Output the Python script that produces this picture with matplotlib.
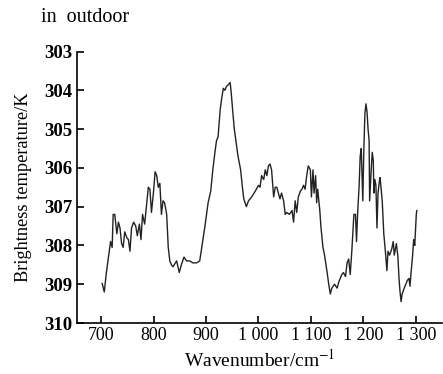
import matplotlib
matplotlib.use("Agg")
import matplotlib.pyplot as plt

wavenumber = [702, 706, 710, 715, 718, 721, 723, 726, 730, 733, 736, 739, 742, 745, 749, 752, 755, 758,
              762, 766, 769, 773, 776, 779, 783, 787, 790, 793, 796, 800, 803, 806, 809, 812, 815, 818,
              821, 825, 828, 831, 834, 837, 844, 849, 853, 858, 863, 869, 875, 882, 888, 893, 898, 904,
              909, 913, 917, 920, 923, 927, 930, 933, 936, 939, 943, 946, 948, 951, 954, 958, 961, 966,
              969, 972, 977, 981, 987, 994, 1000, 1003, 1006, 1010, 1013, 1016, 1019, 1022, 1025, 1029,
              1032, 1035, 1038, 1041, 1044, 1048, 1051, 1054, 1059, 1064, 1067, 1070, 1073, 1076, 1080,
              1083, 1086, 1089, 1092, 1095, 1099, 1101, 1104, 1106, 1109, 1111, 1113, 1117, 1119, 1123,
              1126, 1131, 1134, 1137, 1140, 1145, 1150, 1153, 1156, 1159, 1162, 1166, 1169, 1172, 1175,
              1178, 1182, 1185, 1187, 1189, 1192, 1194, 1196, 1199, 1201, 1203, 1205, 1207, 1209, 1211,
              1212, 1215, 1217, 1219, 1220, 1222, 1224, 1226, 1228, 1231, 1232, 1236, 1239, 1242, 1245,
              1247, 1250, 1254, 1257, 1259, 1263, 1266, 1268, 1270, 1272, 1274, 1278, 1281, 1284, 1287,
              1289, 1291, 1294, 1296, 1298, 1301, 1302]
brightness = [308.98, 309.2, 308.7, 308.2, 307.9, 308.05, 307.2, 307.2, 307.7, 307.4, 307.55, 307.95,
              308.05, 307.65, 307.8, 307.85, 308.15, 307.55, 307.4, 307.5, 307.75, 307.45, 307.85, 307.2,
              307.45, 306.9, 306.5, 306.55, 307.15, 306.6, 306.1, 306.2, 306.5, 306.4, 307.2, 306.85,
              306.9, 307.2, 308.05, 308.4, 308.5, 308.55, 308.4, 308.7, 308.5, 308.3, 308.4, 308.4,
              308.45, 308.45, 308.4, 307.95, 307.5, 306.9, 306.6, 306.05, 305.6, 305.3, 305.2, 304.5,
              304.2, 303.95, 304.0, 303.9, 303.85, 303.8, 304.05, 304.55, 305.0, 305.4, 305.7, 306.05,
              306.45, 306.8, 307.0, 306.85, 306.75, 306.6, 306.45, 306.5, 306.2, 306.3, 306.05, 306.2,
              305.95, 305.9, 306.05, 306.75, 306.5, 306.5, 306.65, 306.8, 306.65, 306.85, 307.2, 307.15,
              307.2, 307.1, 307.4, 306.85, 307.15, 306.75, 306.6, 306.55, 306.45, 306.55, 306.2, 305.95,
              306.05, 306.75, 306.05, 306.65, 306.2, 306.9, 306.55, 307.1, 307.5, 308.05, 308.25, 308.7,
              309.0, 309.25, 309.1, 309.0, 309.1, 308.95, 308.85, 308.75, 308.7, 308.8, 308.45, 308.35,
              308.75, 308.15, 307.2, 307.2, 307.9, 307.2, 306.45, 305.7, 305.5, 306.85, 305.5, 304.6,
              304.35, 304.55, 305.0, 305.3, 306.85, 306.05, 305.6, 305.8, 306.65, 306.3, 306.45, 307.55,
              306.65, 306.3, 306.25, 306.85, 307.7, 308.15, 308.65, 308.15, 308.25, 308.1, 307.9, 308.25,
              307.95, 308.3, 308.85, 309.2, 309.45, 309.25, 309.1, 309.0, 308.9, 308.85, 309.05, 308.7,
              308.25, 307.85, 308.0, 307.2, 307.1]

x_ticks = [700, 800, 900, 1000, 1100, 1200, 1300]
x_tick_labels = ["700", "800", "900", "1 000", "1 100", "1 200", "1 300"]
y_ticks = [303, 304, 305, 306, 307, 308, 309, 310]

plt.rcParams['font.family'] = ['Liberation Serif', 'DejaVu Serif']
plt.rcParams['mathtext.fontset'] = 'stix'

fig = plt.figure(figsize=(4.43, 3.74), dpi=100)
ax = fig.add_axes([77 / 443, 51 / 374, 365 / 443, 271.5 / 374])
ax.plot(wavenumber, brightness, color='#222222', linewidth=1.0)
ax.set_xlim(654, 1350)
ax.set_ylim(310, 303)
ax.set_xticks(x_ticks)
ax.set_xticklabels(x_tick_labels)
ax.set_yticks(y_ticks)
for s in ['top', 'right']:
    ax.spines[s].set_visible(False)
for s in ['left', 'bottom']:
    ax.spines[s].set_linewidth(1.2)
ax.tick_params(direction='in', length=5, width=1.2, pad=3)
ax.tick_params(axis='x', labelsize=13)
ax.tick_params(axis='y', labelsize=13.5)
for lbl in ax.get_yticklabels():
    lbl.set_fontweight('bold')
ax.set_xlabel(r'Wavenumber/cm$^{-1}$', fontsize=14, labelpad=3)
ax.set_ylabel('Brightness temperature/K', fontsize=13.2, labelpad=9)
fig.text(41 / 443, 1 - 22 / 374, 'in  outdoor', fontsize=14.5, ha='left', va='baseline')
fig.savefig('out.png', dpi=100)
